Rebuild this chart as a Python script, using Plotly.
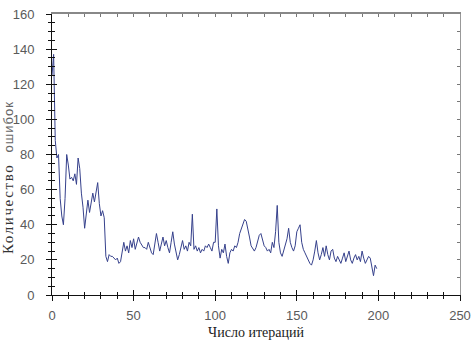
import plotly.graph_objects as go

iterations = list(range(200))
errors = [
    125, 137, 88, 78, 80, 55, 45, 40, 55, 80,
    74, 66, 67, 65, 69, 63, 78, 72, 58, 50,
    38, 46, 54, 47, 52, 58, 53, 60, 64, 52,
    45, 48, 44, 22, 19, 23, 22, 22, 21, 20,
    21, 18, 19, 24, 30, 25, 28, 24, 31, 27,
    32, 26, 29, 33, 30, 28, 27, 27, 26, 30,
    27, 24, 23, 28, 35, 30, 25, 29, 33, 28,
    31, 27, 24, 30, 36, 29, 24, 20, 23, 28,
    31, 26, 28, 25, 30, 28, 46, 26, 28, 25,
    27, 24, 26, 25, 28, 27, 29, 27, 25, 30,
    30, 49, 28, 21, 26, 24, 29, 22, 18, 24,
    26, 25, 28, 27, 30, 35, 38, 40, 43, 42,
    38, 33, 28, 26, 25, 27, 30, 34, 35, 32,
    28, 27, 25, 26, 24, 30, 27, 36, 51, 30,
    24, 22, 25, 28, 32, 38, 30, 27, 25, 28,
    36, 38, 40, 30, 26, 24, 22, 20, 18, 17,
    20, 25, 31, 24, 20, 23, 27, 22, 28, 23,
    20, 25, 26, 21, 19, 22, 20, 18, 21, 24,
    19, 22, 25, 20, 18, 21, 23, 20, 22, 19,
    25, 21, 18, 20, 22, 21, 16, 11, 17, 15,
]

x_ticks = [0, 50, 100, 150, 200, 250]
y_ticks = [0, 20, 40, 60, 80, 100, 120, 140, 160]
x_title = "Число итераций"
y_title_a = "Количество"
y_title_b = "ошибок"

fig = go.Figure()
fig.add_trace(go.Scatter(x=iterations, y=errors, mode="lines",
                         line=dict(color="#36418c", width=1),
                         showlegend=False, hoverinfo="skip"))
# transparent copies so the frame / crossing-tick axes get drawn
for xa, ya in (("x2", "y2"), ("x3", "y3")):
    fig.add_trace(go.Scatter(x=iterations, y=errors, mode="lines", xaxis=xa, yaxis=ya,
                             line=dict(color="rgba(0,0,0,0)", width=1),
                             showlegend=False, hoverinfo="skip"))

tick_font = dict(family="Liberation Sans, Arial, sans-serif", size=13, color="#5a5a5a")
title_font = dict(family="Liberation Serif, Times New Roman, serif", size=14, color="#222222")

common_x = dict(range=[0, 250], showgrid=False, zeroline=False, fixedrange=True, automargin=False)
common_y = dict(range=[0, 160], showgrid=False, zeroline=False, fixedrange=True, automargin=False)

fig.update_layout(
    width=474, height=344,
    margin=dict(l=52, r=14, t=14, b=49),
    paper_bgcolor="white", plot_bgcolor="white",
    xaxis=dict(**common_x, tickvals=x_ticks, ticktext=[str(v) for v in x_ticks],
               showline=True, linecolor="#111111", linewidth=1,
               ticks="outside", ticklen=5, tickcolor="#111111",
               minor=dict(dtick=10, ticks="outside", ticklen=3, tickcolor="#111111"),
               tickfont=tick_font, ticklabelstandoff=3,
               title=dict(text=x_title, font=title_font, standoff=5)),
    yaxis=dict(**common_y, tickvals=y_ticks, ticktext=[str(v) for v in y_ticks],
               showline=True, linecolor="#111111", linewidth=1,
               ticks="outside", ticklen=5, tickcolor="#111111",
               minor=dict(dtick=5, ticks="outside", ticklen=3, tickcolor="#111111"),
               tickfont=tick_font, ticklabelstandoff=9),
    xaxis3=dict(**common_x, overlaying="x", anchor="y", side="bottom",
                tickvals=x_ticks, showticklabels=False, showline=False,
                ticks="inside", ticklen=5, tickcolor="#111111",
                minor=dict(dtick=10, ticks="inside", ticklen=3, tickcolor="#111111")),
    yaxis3=dict(**common_y, overlaying="y", anchor="x", side="left",
                tickvals=y_ticks, showticklabels=False, showline=False,
                ticks="inside", ticklen=5, tickcolor="#111111",
                minor=dict(dtick=5, ticks="inside", ticklen=3, tickcolor="#111111")),
    xaxis2=dict(**common_x, overlaying="x", anchor="y", side="top",
                dtick=10, showticklabels=False,
                showline=True, linecolor="#888888", linewidth=2,
                ticks="inside", ticklen=3, tickcolor="#777777"),
    yaxis2=dict(**common_y, overlaying="y", anchor="x", side="right",
                dtick=10, showticklabels=False,
                showline=True, linecolor="#999999", linewidth=1,
                ticks="inside", ticklen=3, tickcolor="#777777"),
    annotations=[dict(
        text=(f"<span style='letter-spacing:1.6px'>{y_title_a}</span>&nbsp;&nbsp;&nbsp;"
              f"<span style='font-family:Liberation Sans, Arial, sans-serif;color:#666666;"
              f"font-size:13px;letter-spacing:1px'>{y_title_b}</span>"),
        textangle=-90, xref="paper", yref="paper",
        x=(8 - 52) / 408, y=(295 - 178) / 281,
        xanchor="center", yanchor="middle", showarrow=False,
        font=dict(family="Liberation Serif, Times New Roman, serif", size=15, color="#333333"))],
)

fig.write_html("out.html", config={"displayModeBar": False},
               post_script="document.body.style.margin='0';")
